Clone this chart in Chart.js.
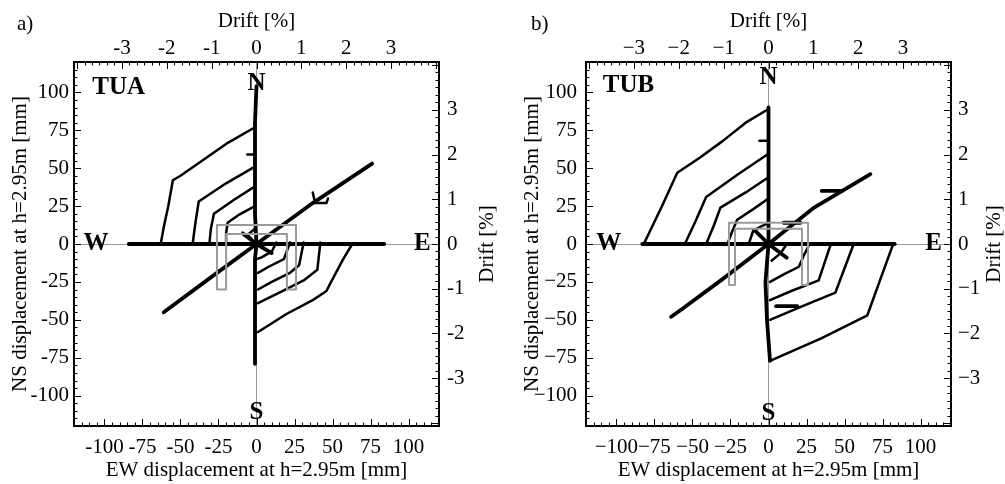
<!DOCTYPE html>
<html><head><meta charset="utf-8">
<script src="https://cdn.jsdelivr.net/npm/chart.js@4.4.1/dist/chart.umd.min.js"></script>
<style>
body{margin:0;background:#fff;width:1005px;height:484px;overflow:hidden;position:relative}
canvas{position:absolute;top:0}
.lab{position:absolute;font-size:21px;font-family:"Liberation Serif","Times New Roman",serif;color:#000;line-height:1}
</style></head><body>
<canvas id="ca" width="503" height="484" style="left:0"></canvas>
<canvas id="cb" width="502" height="484" style="left:503px"></canvas>
<div class="lab" style="left:17px;top:13px">a)</div>
<div class="lab" style="left:531px;top:13px">b)</div>
<script>
// ---------------- data (mm) ----------------
const storyHeightMM = 2950;
const mmTicks = [-100,-75,-50,-25,0,25,50,75,100];
const driftTicks = [-3,-2,-1,0,1,2,3];

// Specimen TUA
const A_ns   = [[-1,-79],[-1,-55],[-1,-30],[-1,-10],[0,0],[-1,20],[-1,50],[-1,80],[0,104]];
const A_ew   = [[-84,0],[-40,0],[0,0],[40,0],[84,0]];
const A_diag = [[-61,-45],[-30,-22],[0,0],[37,27],[76,53]];
const A_star = [[-9,7],[0,0],[10,-6]];
const A_nw1  = [[-1,77],[-20,66],[-37,54],[-50,45],[-55,42],[-58,25],[-61,11],[-63,0]];
const A_nw2  = [[-1,51],[-20,40],[-38,28],[-40,15],[-42,0]];
const A_nw3  = [[-1,38],[-15,29],[-28,20],[-30,10],[-31,0]];
const A_nw4  = [[-1,25],[-12,19],[-19,14],[-20,7],[-20,0]];
const A_nw5  = [[-1,10],[-6,6],[-3,3]];
const A_se1  = [[63,0],[57,-10],[48,-27],[46,-31],[37,-37],[20,-46],[1,-58]];
const A_se2  = [[42,1],[40,-17],[31,-24],[15,-32],[1,-39]];
const A_se3  = [[31,1],[28,-14],[22,-19],[10,-25],[1,-30]];
const A_se4  = [[22,1],[18,-10],[8,-15],[1,-19]];
const A_se5  = [[13,1],[10,-5],[3,-9],[0,-10]];
const A_mark1 = [[-6,59],[-1,59]];
const A_hook  = [[37,34],[38.5,27],[46,27],[47,30]];
const A_gray  = [[-20,-30],[-20,6.6],[20,6.6],[20,-30],[26,-30],[26,12.5],[-26,12.5],[-26,-30],[-20,-30]];

// Specimen TUB
const B_ns   = [[1,-77],[-1,-50],[-2,-25],[0,0],[0,45],[0,90]];
const B_ew   = [[-83,0],[-40,0],[0,0],[40,0],[83,0]];
const B_diag = [[-64,-48],[-57,-43],[-30,-23],[0,0],[30,24],[67,46]];
const B_star = [[-9,9],[0,0],[12,-9]];
const B_nw1  = [[0,89],[-15,80],[-30,68],[-45,57],[-60,47],[-70,25],[-82,0]];
const B_nw2  = [[0,59.5],[-20,46],[-41,31],[-48,15],[-55,0]];
const B_nw3  = [[0,44],[-15,34],[-31.6,24],[-36,12],[-41,0]];
const B_nw4  = [[0,30],[-10,23],[-20.6,16],[-24,8],[-27,0]];
const B_nw5  = [[0,14],[-10,9],[-13,0]];
const B_se1  = [[82,0],[74,-22],[65,-47],[35,-62],[1,-77]];
const B_se2  = [[56,0],[50,-16],[44,-32],[20,-42],[1,-50]];
const B_se3  = [[41,0],[37,-12],[33,-24],[15,-31],[1,-37]];
const B_se4  = [[27,0],[23,-8],[20,-15],[10,-20],[1,-25]];
const B_se5  = [[12,0],[8,-6],[2,-11]];
const B_mark1 = [[-6,68],[0,68]];
const B_mark2 = [[5,-41],[19,-41]];
const B_mark3 = [[35,35],[48,35]];
const B_mark4 = [[10,14],[21,14]];
const B_gray  = [[-22,-27],[-22,10],[22,10],[22,-27],[26,-27],[26,14],[-26,14],[-26,-27],[-22,-27]];

// ---------------- styling / layout ----------------
const FONT = '"Liberation Serif","Times New Roman",serif';
const STYLE = {
  thick:{color:'#000', width:3.8},
  thin:{color:'#000', width:2.5},
  gray:{color:'#9a9a9a', width:2}
};

const panels = {
  a:{canvas:'ca', name:'TUA', minus:'-',
     series:[['gray',A_gray],['thin',A_nw1],['thin',A_nw2],['thin',A_nw3],['thin',A_nw4],['thin',A_nw5],
             ['thin',A_se1],['thin',A_se2],['thin',A_se3],['thin',A_se4],['thin',A_se5],['thin',A_mark1],['thin',A_hook],
             ['thick',A_ns],['thick',A_ew],['thick',A_diag],['thick',A_star]],
     yW:74, y2W:64, leftPad:5, rightPad:8, leftTitlePad:8, rightTitleOff:16,
     letters:{N:[0,105.5],S:[0,-111],W:[-105.5,0],E:[109,0]}, namePos:[-108,103]},
  b:{canvas:'cb', name:'TUB', minus:'\u2212',
     series:[['gray',B_gray],['thin',B_nw1],['thin',B_nw2],['thin',B_nw3],['thin',B_nw4],['thin',B_nw5],
             ['thin',B_se1],['thin',B_se2],['thin',B_se3],['thin',B_se4],['thin',B_se5],
             ['thin',B_mark1],['thick',B_mark2],['thick',B_mark3],['thick',B_mark4],
             ['thick',B_ns],['thick',B_ew],['thick',B_diag],['thick',B_star]],
     yW:83, y2W:54, leftPad:9, rightPad:7, leftTitlePad:17, rightTitleOff:11,
     letters:{N:[0,109.5],S:[0,-111.5],W:[-105,0],E:[108.5,0]}, namePos:[-109,104.5]}
};

const LIM = 120;
const dLim = LIM / storyHeightMM * 100;

const innerTicks = {
  id:'innerTicks',
  afterDraw(chart){
    const ctx = chart.ctx, a = chart.chartArea, s = chart.scales;
    ctx.save(); ctx.strokeStyle = '#000'; ctx.lineWidth = 1;
    function run(scale, step, majorEvery, fn){
      const i0 = Math.ceil(scale.min/step - 1e-9), i1 = Math.floor(scale.max/step + 1e-9);
      for (let i=i0;i<=i1;i++){ fn(Math.round(scale.getPixelForValue(i*step))+0.5, (i % majorEvery === 0) ? 7 : 3.5); }
    }
    ctx.beginPath();
    run(s.x, 5, 5, (p,l)=>{ctx.moveTo(p,a.bottom);ctx.lineTo(p,a.bottom-l);});
    run(s.y, 5, 5, (p,l)=>{ctx.moveTo(a.left,p);ctx.lineTo(a.left+l,p);});
    run(s.x2, 1/6, 6, (p,l)=>{ctx.moveTo(p,a.top);ctx.lineTo(p,a.top+l);});
    run(s.y2, 1/6, 6, (p,l)=>{ctx.moveTo(a.right,p);ctx.lineTo(a.right-l,p);});
    ctx.stroke(); ctx.restore();
  }
};

const annot = {
  id:'annot',
  afterDatasetsDraw(chart, args, opts){
    const ctx = chart.ctx, sx = chart.scales.x, sy = chart.scales.y;
    ctx.save(); ctx.fillStyle = '#000';
    ctx.font = 'bold 25px ' + FONT; ctx.textAlign = 'center'; ctx.textBaseline = 'middle';
    for (const k in opts.letters){ const [x,y] = opts.letters[k]; ctx.fillText(k, sx.getPixelForValue(x), sy.getPixelForValue(y)); }
    ctx.textAlign = 'left';
    ctx.fillText(opts.name, sx.getPixelForValue(opts.namePos[0]), sy.getPixelForValue(opts.namePos[1]));
    // right axis title (reads bottom-to-top)
    ctx.font = '21px ' + FONT;
    ctx.translate(chart.width - opts.rightTitleOff, (chart.chartArea.top + chart.chartArea.bottom)/2);
    ctx.rotate(-Math.PI/2); ctx.textAlign = 'center';
    ctx.fillText('Drift [%]', 0, 0);
    ctx.restore();
  }
};

function makeChart(p){
  const fmt = v => (v < 0 ? p.minus + Math.abs(v) : String(v));
  const font = {family:FONT, size:21};
  const datasets = p.series.map(([kind, pts]) => ({
    data: pts.map(([x,y]) => ({x, y})),
    showLine:true, borderColor:STYLE[kind].color, borderWidth:STYLE[kind].width,
    pointRadius:0, fill:false, tension:0, borderJoinStyle:'round', borderCapStyle:'round',
    xAxisID:'x', yAxisID:'y'
  }));
  const border = {display:true, color:'#000', width:2};
  const zeroGrid = {drawTicks:false, lineWidth:1, color: c => (c.tick && c.tick.value === 0) ? '#9a9a9a' : 'rgba(0,0,0,0)'};
  return new Chart(document.getElementById(p.canvas), {
    type:'scatter',
    data:{datasets},
    options:{
      responsive:false, animation:false, devicePixelRatio:1,
      layout:{padding:0},
      plugins:{legend:{display:false}, tooltip:{enabled:false}, annot:p},
      scales:{
        x:{type:'linear', position:'bottom', min:-LIM, max:LIM,
           afterBuildTicks:s=>{s.ticks = mmTicks.map(v=>({value:v}));},
           afterFit:s=>{s.height = 58;},
           ticks:{autoSkip:false, maxRotation:0, padding:9, font, color:'#000', callback:fmt},
           grid:zeroGrid, border,
           title:{display:true, text:'EW displacement at h=2.95m [mm]', font, color:'#000', padding:{top:0,bottom:1}}},
        x2:{type:'linear', position:'top', min:-dLim, max:dLim,
           afterBuildTicks:s=>{s.ticks = driftTicks.map(v=>({value:v}));},
           afterFit:s=>{s.height = 62;},
           ticks:{autoSkip:false, maxRotation:0, padding:1, font, color:'#000', callback:fmt},
           grid:{display:false, drawTicks:false}, border,
           title:{display:true, text:'Drift [%]', font, color:'#000', padding:{top:9,bottom:0}}},
        y:{type:'linear', position:'left', min:-LIM, max:LIM,
           afterBuildTicks:s=>{s.ticks = mmTicks.map(v=>({value:v}));},
           afterFit:s=>{s.width = p.yW;},
           ticks:{autoSkip:false, padding:p.leftPad, font, color:'#000', callback:fmt},
           grid:zeroGrid, border,
           title:{display:true, text:'NS displacement at h=2.95m [mm]', font, color:'#000', padding:{top:p.leftTitlePad,bottom:0}}},
        y2:{type:'linear', position:'right', min:-dLim, max:dLim,
           afterBuildTicks:s=>{s.ticks = driftTicks.map(v=>({value:v}));},
           afterFit:s=>{s.width = p.y2W;},
           ticks:{autoSkip:false, padding:p.rightPad, font, color:'#000', callback:fmt},
           grid:{display:false, drawTicks:false}, border,
           title:{display:false}}
      }
    },
    plugins:[innerTicks, annot]
  });
}
makeChart(panels.a);
makeChart(panels.b);
</script>
</body></html>
